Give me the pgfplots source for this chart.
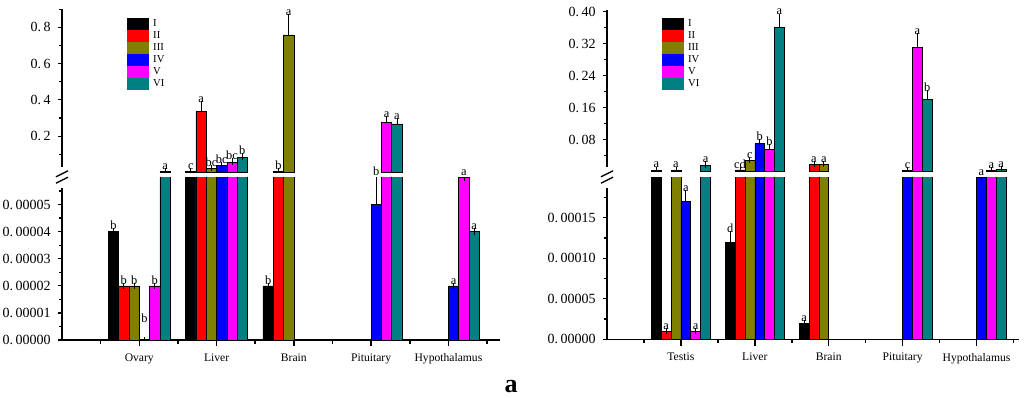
\documentclass[border=0pt]{standalone}
\usepackage{pgfplots}
\pgfplotsset{compat=1.18}
\usepackage{pgfplotstable}
\usepackage{fontspec}
\setmainfont{Liberation Serif}

\definecolor{cI}{RGB}{0,0,0}
\definecolor{cII}{RGB}{255,0,0}
\definecolor{cIII}{RGB}{128,128,0}
\definecolor{cIV}{RGB}{0,0,255}
\definecolor{cV}{RGB}{255,0,255}
\definecolor{cVI}{RGB}{0,128,128}

% Panel A: 1 Ovary, 2 Liver, 3 Brain, 4 Pituitary, 5 Hypothalamus
\pgfplotstableread{
x I eI II eII III eIII IV eIV V eV VI eVI
1 4e-5 0 2e-5 0 2e-5 0 0 0 2e-5 0 0.006 0
2 0.006 0 0.336 0.040 0.020 0.003 0.038 0.003 0.057 0.003 0.084 0.003
3 2e-5 0 0.006 0 0.758 0.100 nan 0 nan 0 nan 0
4 nan 0 nan 0 nan 0 5e-5 1e-5 0.277 0.017 0.268 0.016
5 nan 0 nan 0 nan 0 2e-5 0 6e-5 0 4e-5 0
}\dataA
% Panel B: 1 Testis, 2 Liver, 3 Brain, 4 Pituitary, 5 Hypothalamus
\pgfplotstableread{
x I eI II eII III eIII IV eIV V eV VI eVI
1 0.003 0 1e-5 0 0.003 0 1.7e-4 1e-5 1e-5 0 0.016 0.001
2 1.2e-4 1e-5 0.004 0 0.027 0.002 0.070 0.004 0.056 0.005 0.360 0.027
3 2e-5 0 0.018 0 0.018 0 nan 0 nan 0 nan 0
4 nan 0 nan 0 nan 0 0.002 0 0.310 0.028 0.180 0.015
5 nan 0 nan 0 nan 0 2e-4 0 0.002 0 0.005 0.001
}\dataB

\tikzset{lab/.style={anchor=south, inner sep=0.6pt, font=\fontsize{6.2}{7}\selectfont}}

\pgfplotsset{
  base/.style={
    scale only axis, anchor=south west, ybar, bar width=0.1333,
    xmin=0, enlargelimits=false, clip mode=individual,
    axis line style={line width=0.7pt,-},
    tick align=outside, tick style={draw=black, line width=0.6pt},
    major tick length=2.2pt, minor tick length=1.4pt,
    scaled y ticks=false,
    yticklabel style={font=\fontsize{7}{8}\selectfont},
    xticklabel style={font=\fontsize{5.8}{7}\selectfont, yshift=-1.2pt},
  },
  topax/.style={base, hide x axis, axis y line*=left, restrict y to domain=0.001:5,
    legend image code/.code={\fill[##1,draw=none] (0pt,-2.6pt) rectangle (11pt,3.4pt);},
    legend style={draw=none, fill=none, inner sep=0pt, row sep=0pt, column sep=2pt,
      nodes={inner sep=0pt}, font=\fontsize{5.3}{6}\selectfont, cells={anchor=west}, anchor=north west},
  },
  botax/.style={base, axis x line*=bottom, axis y line*=left,
    xtick={1,2,3,4,5},
    y filter/.expression={y>#1 ? #1 : y}},
  eb/.style={draw=black, line width=0.3pt,
    error bars/y dir=plus, error bars/y explicit,
    error bars/error bar style={line width=0.4pt, black},
    error bars/error mark options={line width=0.4pt, black, mark size=1.6pt}},
  s1/.style={eb, fill=cI, bar shift=-0.3333},
  s2/.style={eb, fill=cII, bar shift=-0.2},
  s3/.style={eb, fill=cIII, bar shift=-0.0667},
  s4/.style={eb, fill=cIV, bar shift=0.0667},
  s5/.style={eb, fill=cV, bar shift=0.2},
  s6/.style={eb, fill=cVI, bar shift=0.3333},
}
% bars in a lower (cut) axis: values above the cut are capped and lose their error bar
\newcommand\botplot[4]{\addplot[#1] table[x=x,y=#2,y error expr={\thisrow{#2}>#4 ? 0 : \thisrow{e#2}}]{#3};}
\newcommand\topplot[3]{\addplot[#1] table[x=x,y=#2,y error=e#2]{#3}; \addlegendentry{#2}}

\begin{document}
\begin{tikzpicture}
\useasboundingbox (0,0) rectangle (512pt,198.5pt);

% ===== Panel A top =====
\begin{axis}[topax, at={(31pt,112.3pt)}, width=219pt, height=81.6pt, xmax=5.667,
  ymin=0, ymax=0.9, ytick={0.2,0.4,0.6,0.8}, minor ytick={0.1,0.3,0.5,0.7,0.9},
  yticklabels={0.\,2,0.\,4,0.\,6,0.\,8},
  legend style={at={(0.148,0.949)}}]
\topplot{s1}{I}{\dataA}
\topplot{s2}{II}{\dataA}
\topplot{s3}{III}{\dataA}
\topplot{s4}{IV}{\dataA}
\topplot{s5}{V}{\dataA}
\topplot{s6}{VI}{\dataA}
\node[lab] at (axis cs:1.3333,0.006) {a};
\node[lab] at (axis cs:1.6667,0.006) {c};
\node[lab] at (axis cs:1.8,0.376) {a};
\node[lab] at (axis cs:1.9333,0.023) {bc};
\node[lab] at (axis cs:2.0667,0.041) {bc};
\node[lab] at (axis cs:2.2,0.060) {bc};
\node[lab] at (axis cs:2.3333,0.087) {b};
\node[lab] at (axis cs:2.8,0.006) {b};
\node[lab] at (axis cs:2.9333,0.858) {a};
\node[lab] at (axis cs:4.2,0.294) {a};
\node[lab] at (axis cs:4.3333,0.284) {a};
\end{axis}

% ===== Panel A bottom =====
\begin{axis}[botax=7e-5, at={(31pt,28.5pt)}, width=219pt, height=81.3pt, xmax=5.667,
  xticklabels={Ovary,Liver,Brain,Pituitary,Hypothalamus},
  ymin=0, ymax=6e-5, ytick={0,1e-5,2e-5,3e-5,4e-5,5e-5},
  minor ytick={0.5e-5,1.5e-5,2.5e-5,3.5e-5,4.5e-5,5.5e-5},
  yticklabels={0.\,00000,0.\,00001,0.\,00002,0.\,00003,0.\,00004,0.\,00005}]
\botplot{s1}{I}{\dataA}{7e-5}
\botplot{s2}{II}{\dataA}{7e-5}
\botplot{s3}{III}{\dataA}{7e-5}
\botplot{s4}{IV}{\dataA}{7e-5}
\botplot{s5}{V}{\dataA}{7e-5}
\botplot{s6}{VI}{\dataA}{7e-5}
\node[lab] at (axis cs:0.6667,4e-5) {b};
\node[lab] at (axis cs:0.8,2e-5) {b};
\node[lab] at (axis cs:0.9333,2e-5) {b};
\node[lab] at (axis cs:1.0667,0.6e-5) {b};
\node[lab] at (axis cs:1.2,2e-5) {b};
\node[lab] at (axis cs:2.6667,2e-5) {b};
\node[lab] at (axis cs:4.0667,6e-5) {b};
\node[lab] at (axis cs:5.0667,2e-5) {a};
\node[lab] at (axis cs:5.2,6e-5) {a};
\node[lab] at (axis cs:5.3333,4e-5) {a};
\end{axis}

% ===== Panel B top =====
\begin{axis}[topax, at={(303.5pt,112.75pt)}, width=206pt, height=81pt, xmax=5.575,
  ymin=0, ymax=0.405, ytick={0.08,0.16,0.24,0.32,0.40}, minor ytick={0.04,0.12,0.20,0.28,0.36},
  yticklabels={0.\,08,0.\,16,0.\,24,0.\,32,0.\,40},
  legend style={at={(0.1328,0.952)}}]
\topplot{s1}{I}{\dataB}
\topplot{s2}{II}{\dataB}
\topplot{s3}{III}{\dataB}
\topplot{s4}{IV}{\dataB}
\topplot{s5}{V}{\dataB}
\topplot{s6}{VI}{\dataB}
\node[lab] at (axis cs:0.6667,0.006) {a};
\node[lab] at (axis cs:0.9333,0.006) {a};
\node[lab] at (axis cs:1.3333,0.017) {a};
\node[lab] at (axis cs:1.8,0.004) {cd};
\node[lab] at (axis cs:1.9333,0.029) {c};
\node[lab] at (axis cs:2.0667,0.074) {b};
\node[lab] at (axis cs:2.2,0.061) {b};
\node[lab] at (axis cs:2.3333,0.387) {a};
\node[lab] at (axis cs:2.8,0.018) {a};
\node[lab] at (axis cs:2.9333,0.018) {a};
\node[lab] at (axis cs:4.0667,0.002) {c};
\node[lab] at (axis cs:4.2,0.338) {a};
\node[lab] at (axis cs:4.3333,0.195) {b};
\node[lab] at (axis cs:5.2,0.002) {a};
\node[lab] at (axis cs:5.3333,0.006) {a};
\end{axis}

% ===== Panel B bottom =====
\begin{axis}[botax=2.2e-4, at={(303.5pt,28.85pt)}, width=206pt, height=81pt, xmax=5.575,
  xticklabels={Testis,Liver,Brain,Pituitary,Hypothalamus},
  ymin=0, ymax=2e-4, ytick={0,5e-5,1e-4,1.5e-4},
  minor ytick={2.5e-5,7.5e-5,1.25e-4,1.75e-4},
  yticklabels={0.\,00000,0.\,00005,0.\,00010,0.\,00015}]
\botplot{s1}{I}{\dataB}{2.2e-4}
\botplot{s2}{II}{\dataB}{2.2e-4}
\botplot{s3}{III}{\dataB}{2.2e-4}
\botplot{s4}{IV}{\dataB}{2.2e-4}
\botplot{s5}{V}{\dataB}{2.2e-4}
\botplot{s6}{VI}{\dataB}{2.2e-4}
\node[lab] at (axis cs:0.8,1e-5) {a};
\node[lab] at (axis cs:1.0667,1.8e-4) {a};
\node[lab] at (axis cs:1.2,1e-5) {a};
\node[lab] at (axis cs:1.6667,1.3e-4) {d};
\node[lab] at (axis cs:2.6667,2e-5) {a};
\node[lab] at (axis cs:5.0667,2e-4) {a};
\end{axis}

% x tick marks of the category axes (major at categories, minor between)
\foreach \t in {1,2,3,4,5}{
  \draw[line width=0.75pt] ({31pt+\t*38.645pt},28.6pt) -- ++(0,-3.3pt);
  \draw[line width=0.75pt] ({303.5pt+\t*36.951pt},28.95pt) -- ++(0,-3.3pt);
}
\foreach \t in {0.5,1.5,2.5,3.5,4.5,5.5}{
  \draw[line width=0.75pt] ({31pt+\t*38.645pt},28.6pt) -- ++(0,-2pt);
  \draw[line width=0.75pt] ({303.5pt+\t*36.951pt},28.95pt) -- ++(0,-2pt);
}

% axis-break marks: interrupt the y axis lines and draw two slanted strokes
\foreach \bx in {31pt,303.5pt}{
  \fill[white] (\bx,104.5pt) ++(-1pt,0) rectangle ++(2pt,10.5pt);
  \draw[line width=0.7pt] (\bx,111.6pt) ++(-3pt,-1.5pt) -- ++(6pt,3pt);
  \draw[line width=0.7pt] (\bx,108.4pt) ++(-3pt,-1.5pt) -- ++(6pt,3pt);
}

\node[font=\fontsize{13}{14}\selectfont\bfseries] at (255.5pt,5pt) {a};
\end{tikzpicture}
\end{document}
